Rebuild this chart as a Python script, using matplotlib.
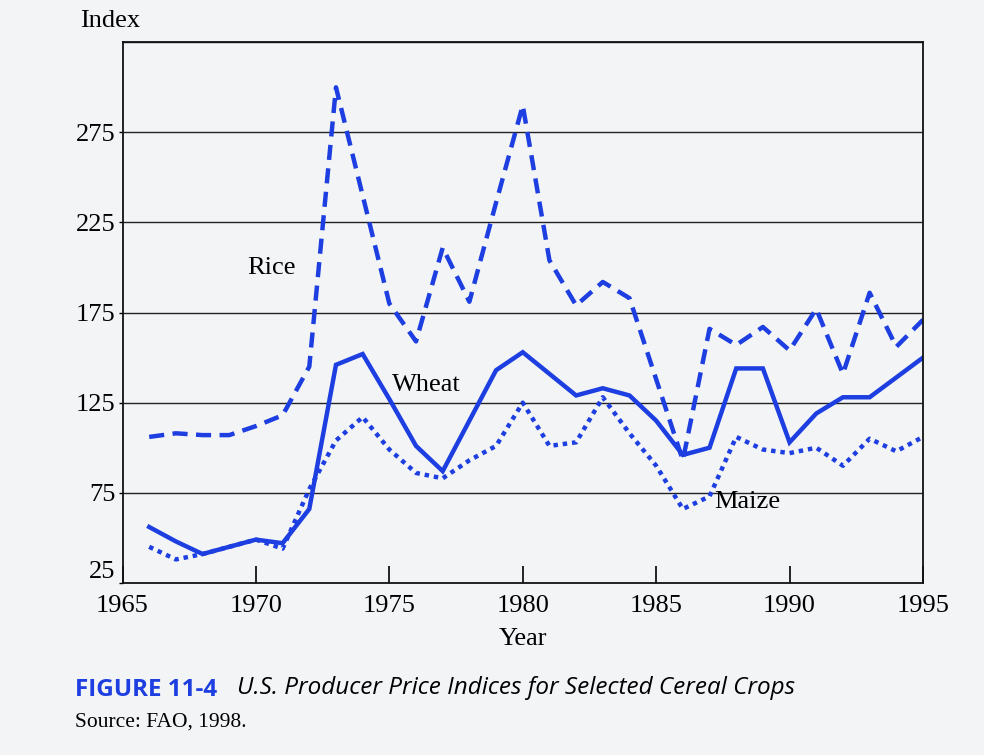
import matplotlib
matplotlib.use("Agg")
import matplotlib.pyplot as plt

# U.S. producer price indices
years = list(range(1966, 1996))
wheat = [56, 48, 41, 45, 49, 47, 66, 146, 152, 127, 101, 87, 115, 143, 153,
         141, 129, 133, 129, 115, 96, 100, 144, 144, 103, 119, 128, 128, 139, 150]
rice = [106, 108, 107, 107, 112, 118, 145, 300, 240, 180, 159, 211, 181, 236, 290,
        204, 179, 192, 183, 138, 93, 166, 157, 167, 154, 177, 141, 186, 156, 171]
maize = [45, 38, 41, 45, 49, 44, 77, 104, 117, 99, 86, 83, 93, 101, 125,
         101, 103, 128, 108, 90, 66, 73, 106, 99, 97, 100, 90, 105, 98, 106]

yticks = [25, 75, 125, 175, 225, 275]
xticks = [1965, 1970, 1975, 1980, 1985, 1990, 1995]

blue = "#1d3ee0"
paper = "#f3f4f6"
serif = "Liberation Serif"
fs = 19

fig = plt.figure(figsize=(9.84, 7.55), dpi=100, facecolor=paper)
ax = fig.add_axes([0.1245, 0.228, 0.8135, 0.716])
ax.set_facecolor(paper)

ax.plot(years, rice, color=blue, lw=3.2, linestyle=(0, (3.4, 1.9)), dash_capstyle="butt")
ax.plot(years, wheat, color=blue, lw=3.2, solid_joinstyle="miter")
ax.plot(years, maize, color=blue, lw=3.2, linestyle=(0, (1.0, 1.1)), dash_capstyle="butt")

ax.set_xlim(1965, 1995)
ax.set_ylim(25, 325)
ax.set_yticks(yticks)
ax.set_xticks(xticks)
for v in yticks[1:] + [325]:
    ax.axhline(v, color="#222222", lw=1.0, zorder=0)

for s in ax.spines.values():
    s.set_linewidth(1.3)
    s.set_color("#111111")

ax.tick_params(axis="x", direction="in", length=12, width=1.2, pad=9)
ax.tick_params(axis="y", direction="out", length=3, width=1.0, pad=2)
for lab in ax.get_xticklabels() + ax.get_yticklabels():
    lab.set_fontfamily(serif)
    lab.set_fontsize(fs)
# the bottom label sits just above the axis in the original
ax.get_yticklabels()[0].set_verticalalignment("bottom")

ax.text(1970.6, 200, "Rice", family=serif, fontsize=fs, ha="center", va="center")
ax.text(1976.4, 135, "Wheat", family=serif, fontsize=fs, ha="center", va="center")
ax.text(1988.4, 70, "Maize", family=serif, fontsize=fs, ha="center", va="center")

fig.text(0.081, 0.972, "Index", family=serif, fontsize=fs, va="center")
fig.text(0.532, 0.154, "Year", family=serif, fontsize=fs, ha="center", va="center")

fig.text(0.076, 0.086, "FIGURE 11-4", family="Open Sans", fontsize=17.5, color=blue,
         fontweight="bold", va="center")
fig.text(0.241, 0.089, "U.S. Producer Price Indices for Selected Cereal Crops",
         family="Open Sans", fontsize=17.5, style="italic", va="center")
fig.text(0.076, 0.043, "Source: FAO, 1998.", family=serif, fontsize=15.5, va="center")

fig.savefig("out.png", dpi=100, facecolor=paper)
